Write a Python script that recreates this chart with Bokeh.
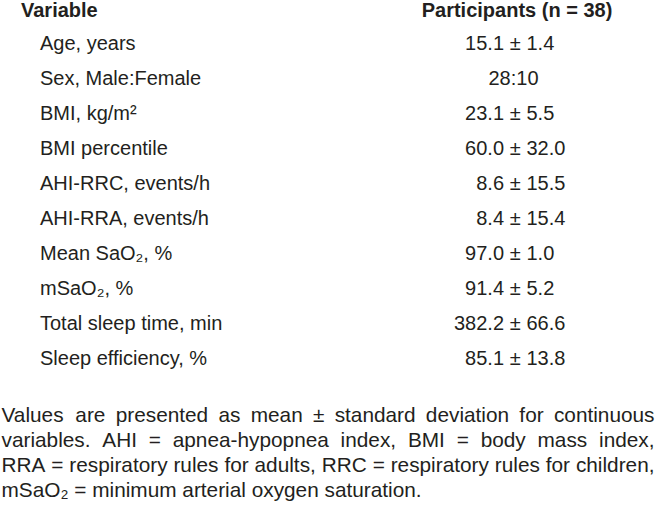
from bokeh.plotting import figure
from bokeh.models import Range1d, ColumnDataSource
from bokeh.core.properties import value
from bokeh.embed import file_html
from bokeh.resources import INLINE

# ---------------- data ----------------
header_variable = "Variable"
header_group = "Participants (n = 38)"
variables = [
    "Age, years",
    "Sex, Male:Female",
    "BMI, kg/m\u00b2",
    "BMI percentile",
    "AHI-RRC, events/h",
    "AHI-RRA, events/h",
    "Mean SaO\u2082, %",
    "mSaO\u2082, %",
    "Total sleep time, min",
    "Sleep efficiency, %",
]
means = [15.1, None, 23.1, 60.0, 8.6, 8.4, 97.0, 91.4, 382.2, 85.1]
sds = [1.4, None, 5.5, 32.0, 15.5, 15.4, 1.0, 5.2, 66.6, 13.8]
sex_male = 28
sex_female = 10
footnote_lines = [
    "Values are presented as mean \u00b1 standard deviation for continuous",
    "variables. AHI = apnea-hypopnea index, BMI = body mass index,",
    "RRA = respiratory rules for adults, RRC = respiratory rules for children,",
    "mSaO\u2082 = minimum arterial oxygen saturation.",
]
justified = [True, True, True, False]

# ---------------- style ----------------
INK = "#231F20"
FONT = value("Liberation Sans")
FS_TABLE = 20.0
FS_NOTE = 20.8
SHIFT = 0.4  # svg text anchor sits ~0.4 em above the drawn baseline

# Arial / Liberation Sans advance widths (1/1000 em) for justification
W = {" ": 278, ".": 278, ",": 278, "=": 584, "\u00b1": 549, "-": 333}
W.update(zip("abcdefghijklmnopqrstuvwxyz",
             [556, 556, 500, 556, 556, 278, 556, 556, 222, 222, 500, 222, 833,
              556, 556, 556, 556, 333, 500, 278, 556, 500, 722, 500, 500, 500]))
W.update(zip("ABCDEFGHIJKLMNOPQRSTUVWXYZ",
             [667, 667, 722, 722, 667, 611, 778, 722, 278, 500, 667, 556, 833,
              722, 778, 667, 778, 722, 667, 611, 722, 667, 944, 667, 667, 611]))


def text_width(s, fs):
    return sum(W.get(c, 556) for c in s) * fs / 1000.0


def anchor(baseline, fs):
    return baseline - SHIFT * fs


p = figure(width=658, height=510, title=None,
           x_range=Range1d(0, 658), y_range=Range1d(510, 0),
           output_backend="svg", toolbar_location=None,
           x_axis_location=None, y_axis_location=None,
           min_border=0, tools="")
p.grid.visible = False
p.outline_line_color = None
p.background_fill_color = "white"
p.border_fill_color = "white"

common = dict(text_font=FONT, text_color=INK, text_baseline="alphabetic")

# header
head_base = 17.3
p.text(x=[20.5], y=[anchor(head_base, FS_TABLE)], text=[header_variable], text_align="left",
       text_font_style="bold", text_font_size=f"{FS_TABLE}px", **common)
p.text(x=[516.5], y=[anchor(head_base, FS_TABLE)], text=[header_group], text_align="center",
       text_font_style="bold", text_font_size=f"{FS_TABLE}px", **common)

# rows
row0 = 50.0
step = 35.0
row_y = [anchor(row0 + i * step, FS_TABLE) for i in range(len(variables))]
p.text(x=[39.5] * len(variables), y=row_y, text=variables, text_align="left",
       text_font_size=f"{FS_TABLE}px", **common)

pm_x = 514.7
mx, my, mt, sx_, sy_, st, px_, py_ = [], [], [], [], [], [], [], []
for y, m, s in zip(row_y, means, sds):
    if m is None:
        continue
    mx.append(pm_x - 11.2); my.append(y); mt.append(f"{m:.1f}")
    sx_.append(pm_x + 11.3); sy_.append(y); st.append(f"{s:.1f}")
    px_.append(pm_x); py_.append(y)
p.text(x=mx, y=my, text=mt, text_align="right", text_font_size=f"{FS_TABLE}px", **common)
p.text(x=px_, y=py_, text=["\u00b1"] * len(px_), text_align="center",
       text_font_size=f"{FS_TABLE}px", **common)
p.text(x=sx_, y=sy_, text=st, text_align="left", text_font_size=f"{FS_TABLE}px", **common)

sex_idx = variables.index("Sex, Male:Female")
p.text(x=[513], y=[row_y[sex_idx]], text=[f"{sex_male}:{sex_female}"], text_align="center",
       text_font_size=f"{FS_TABLE}px", **common)

# footnote (justified)
note0 = 422.5
note_step = 25.1
left, right = 1.0, 654.0
wx, wy, wt = [], [], []
for i, (line, just) in enumerate(zip(footnote_lines, justified)):
    y = anchor(note0 + i * note_step, FS_NOTE)
    if not just:
        wx.append(left); wy.append(y); wt.append(line)
        continue
    words = line.split(" ")
    widths = [text_width(w, FS_NOTE) for w in words]
    gap = (right - left - sum(widths)) / (len(words) - 1)
    x = left
    for w, wd in zip(words, widths):
        wx.append(x); wy.append(y); wt.append(w)
        x += wd + gap
p.text(x="x", y="y", text="t", source=ColumnDataSource(dict(x=wx, y=wy, t=wt)),
       text_align="left", text_font_size=f"{FS_NOTE}px", **common)

open("out.html", "w").write(file_html(p, INLINE))
